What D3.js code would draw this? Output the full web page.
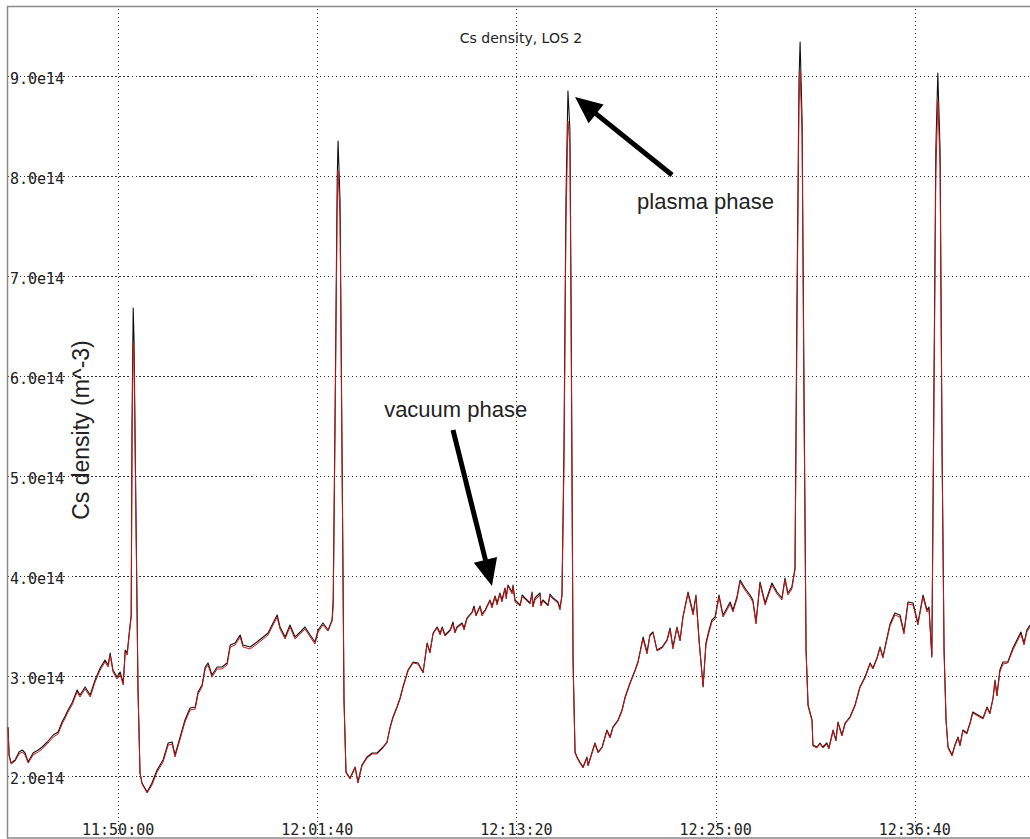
<!DOCTYPE html>
<html>
<head>
<meta charset="utf-8">
<script src="https://cdn.jsdelivr.net/npm/d3@7"></script>
<style>
  body { margin: 0; background: #fff; }
  svg { display: block; }
</style>
</head>
<body>
<div id="chart"></div>
<script>
const width = 1030;
const height = 839;
const frame = { left: 7.5, top: 6.5, right: 1031, bottom: 838 };

const titleText = "Cs density, LOS 2";
const yTitle = "Cs density (m^-3)";

// time axis: seconds after 11:43:30
const baseClock = "11:43:30";
const xStartClock = "11:43:33";
const xEndClock = "12:43:25";
const xTickLabels = ["11:50:00", "12:01:40", "12:13:20", "12:25:00", "12:36:40"];

// density in units of 1e14 m^-3
const yDomain = [1.38, 9.69];
const yTicks = [2, 3, 4, 5, 6, 7, 8, 9];

const times = [
  3, 7, 14, 28, 42, 53, 63, 74, 91, 109, 123, 141, 162, 179, 193, 204, 214, 228, 246, 256,
  274, 292, 309, 327, 344, 355, 362, 372, 386, 397, 408, 415, 422, 429, 436, 439, 443, 446, 453, 460, 467,
  474, 492, 509, 527, 548, 566, 580, 590, 608, 625, 643, 661, 671, 685, 696, 706, 720, 738, 755, 773,
  784, 801, 819, 829, 854, 878, 900, 917, 931, 949, 959, 977, 994, 1012, 1030, 1047, 1065, 1082, 1093, 1110,
  1128, 1142, 1146, 1153, 1160, 1163, 1170, 1177, 1184, 1191,
  1205, 1223, 1233, 1247, 1265, 1283, 1300, 1318, 1335, 1346, 1356, 1370, 1381, 1391, 1409, 1427, 1444, 1462, 1476, 1486, 1497,
  1511, 1522, 1529, 1539, 1557, 1567, 1574, 1581, 1599, 1606, 1616, 1634, 1641, 1648, 1662, 1669, 1680, 1697, 1704, 1715,
  1722, 1732, 1739, 1750, 1754, 1760, 1775, 1778, 1785, 1803, 1810, 1820, 1838, 1845, 1848, 1855, 1873, 1876, 1883, 1901,
  1908, 1919, 1936, 1943, 1950, 1957, 1964, 1971, 1978, 1982, 1989, 1996,
  2003, 2013, 2024, 2038, 2042, 2056, 2066, 2077, 2091, 2108, 2119, 2129, 2147, 2161, 2172, 2189, 2207, 2217, 2235, 2249,
  2259, 2270, 2284, 2302, 2319, 2330, 2340, 2354, 2365, 2375, 2393, 2411, 2421, 2432, 2446, 2456, 2467, 2477, 2488, 2502,
  2516, 2530, 2541, 2551, 2565, 2576, 2593, 2611, 2621, 2632, 2646, 2664, 2688, 2706, 2723, 2734, 2744, 2758, 2769, 2776,
  2783, 2787, 2794, 2801, 2808, 2815,
  2829, 2832, 2846, 2857, 2867, 2881, 2888, 2903, 2913, 2920, 2934, 2945, 2962, 2980, 2997, 3015, 3033, 3043, 3057, 3068,
  3078, 3092, 3103, 3120, 3138, 3152, 3166, 3184, 3201, 3219, 3233, 3240, 3250, 3257, 3264, 3271, 3279, 3286, 3293, 3300,
  3307, 3321, 3331, 3342, 3349, 3359, 3373, 3384, 3394, 3412, 3430, 3444, 3454, 3465, 3472, 3479, 3489, 3500, 3517, 3535,
  3549, 3563, 3574, 3584, 3595
];

const blackValues = [
  2.49, 2.21, 2.13, 2.16, 2.24, 2.26, 2.23, 2.14, 2.23, 2.26, 2.29, 2.34, 2.41, 2.44, 2.54, 2.60, 2.66, 2.73, 2.86, 2.81,
  2.89, 2.81, 2.96, 3.08, 3.16, 3.11, 3.23, 3.06, 2.99, 3.04, 2.93, 3.26, 3.23, 3.43, 3.61, 5.56, 6.68, 6.36, 4.56, 2.86, 2.03,
  1.93, 1.84, 1.93, 2.06, 2.16, 2.33, 2.34, 2.21, 2.39, 2.56, 2.68, 2.69, 2.84, 2.91, 3.09, 3.13, 3.01, 3.09, 3.09, 3.13,
  3.31, 3.33, 3.41, 3.31, 3.29, 3.34, 3.39, 3.43, 3.51, 3.61, 3.49, 3.39, 3.51, 3.39, 3.44, 3.49, 3.41, 3.34, 3.46, 3.53,
  3.46, 3.56, 3.76, 5.76, 7.96, 8.35, 7.76, 5.26, 2.76, 2.04,
  1.98, 2.09, 1.94, 2.11, 2.19, 2.23, 2.23, 2.28, 2.34, 2.49, 2.59, 2.69, 2.78, 2.89, 3.06, 3.14, 3.13, 3.04, 3.33, 3.24, 3.43,
  3.49, 3.43, 3.49, 3.41, 3.46, 3.54, 3.44, 3.49, 3.53, 3.48, 3.58, 3.64, 3.70, 3.61, 3.70, 3.62, 3.66, 3.76, 3.70, 3.80,
  3.73, 3.83, 3.76, 3.88, 3.79, 3.91, 3.84, 3.91, 3.76, 3.71, 3.81, 3.78, 3.73, 3.84, 3.70, 3.78, 3.83, 3.72, 3.76, 3.71,
  3.82, 3.78, 3.74, 3.68, 3.81, 5.26, 7.76, 8.85, 8.46, 6.76, 3.16, 2.24,
  2.19, 2.14, 2.09, 2.19, 2.11, 2.24, 2.33, 2.24, 2.29, 2.46, 2.39, 2.49, 2.56, 2.66, 2.79, 2.93, 3.06, 3.14, 3.39, 3.24,
  3.41, 3.44, 3.26, 3.29, 3.36, 3.48, 3.29, 3.49, 3.36, 3.59, 3.84, 3.63, 3.81, 3.36, 2.89, 3.33, 3.46, 3.56, 3.59, 3.81,
  3.61, 3.68, 3.74, 3.66, 3.79, 3.96, 3.88, 3.81, 3.76, 3.54, 3.94, 3.73, 3.93, 3.84, 3.78, 3.98, 3.83, 3.89, 4.08, 6.76,
  8.96, 9.34, 8.56, 5.76, 3.26, 2.71,
  2.56, 2.31, 2.29, 2.33, 2.29, 2.33, 2.28, 2.46, 2.36, 2.54, 2.41, 2.53, 2.59, 2.71, 2.89, 2.99, 3.13, 3.08, 3.18, 3.29,
  3.19, 3.38, 3.52, 3.63, 3.61, 3.44, 3.74, 3.73, 3.53, 3.81, 3.66, 3.69, 3.19, 5.76, 8.26, 9.03, 8.26, 5.26, 3.26, 2.56,
  2.29, 2.21, 2.31, 2.39, 2.31, 2.46, 2.43, 2.53, 2.64, 2.61, 2.58, 2.69, 2.63, 2.78, 2.96, 2.81, 3.06, 3.14, 3.14, 3.28,
  3.36, 3.44, 3.33, 3.46, 3.51
];

const redValues = [
  2.48, 2.20, 2.12, 2.15, 2.22, 2.24, 2.21, 2.13, 2.21, 2.24, 2.27, 2.32, 2.39, 2.42, 2.52, 2.58, 2.64, 2.71, 2.84, 2.79,
  2.87, 2.79, 2.94, 3.06, 3.14, 3.09, 3.21, 3.04, 2.97, 3.02, 2.91, 3.24, 3.21, 3.41, 3.59, 5.40, 6.33, 6.20, 4.50, 2.84, 2.03,
  1.92, 1.83, 1.91, 2.04, 2.14, 2.31, 2.32, 2.19, 2.37, 2.54, 2.66, 2.67, 2.82, 2.89, 3.07, 3.11, 2.99, 3.07, 3.07, 3.11,
  3.29, 3.31, 3.39, 3.29, 3.27, 3.32, 3.37, 3.41, 3.49, 3.59, 3.47, 3.37, 3.49, 3.37, 3.42, 3.47, 3.39, 3.32, 3.44, 3.51,
  3.45, 3.55, 3.70, 5.60, 7.70, 8.05, 7.60, 5.20, 2.74, 2.03,
  1.97, 2.08, 1.93, 2.10, 2.18, 2.22, 2.22, 2.27, 2.33, 2.48, 2.58, 2.68, 2.77, 2.88, 3.05, 3.13, 3.12, 3.03, 3.32, 3.23, 3.42,
  3.48, 3.41, 3.48, 3.40, 3.45, 3.52, 3.43, 3.48, 3.52, 3.46, 3.57, 3.63, 3.68, 3.60, 3.69, 3.60, 3.65, 3.75, 3.68, 3.79,
  3.71, 3.82, 3.74, 3.87, 3.77, 3.90, 3.82, 3.89, 3.74, 3.70, 3.79, 3.77, 3.72, 3.82, 3.69, 3.76, 3.81, 3.70, 3.75, 3.70,
  3.80, 3.77, 3.73, 3.66, 3.80, 5.10, 7.50, 8.55, 8.30, 6.60, 3.14, 2.23,
  2.18, 2.13, 2.08, 2.18, 2.10, 2.23, 2.32, 2.23, 2.28, 2.45, 2.38, 2.48, 2.55, 2.65, 2.78, 2.92, 3.05, 3.13, 3.37, 3.22,
  3.40, 3.43, 3.25, 3.28, 3.35, 3.46, 3.27, 3.48, 3.35, 3.58, 3.82, 3.61, 3.79, 3.34, 2.90, 3.31, 3.44, 3.54, 3.57, 3.79,
  3.59, 3.66, 3.72, 3.64, 3.77, 3.94, 3.86, 3.79, 3.74, 3.52, 3.92, 3.71, 3.91, 3.82, 3.76, 3.96, 3.81, 3.87, 4.06, 6.50,
  8.70, 9.05, 8.40, 5.60, 3.24, 2.70,
  2.55, 2.30, 2.28, 2.32, 2.28, 2.32, 2.27, 2.45, 2.35, 2.53, 2.40, 2.52, 2.58, 2.70, 2.88, 2.98, 3.12, 3.07, 3.17, 3.28,
  3.18, 3.36, 3.50, 3.61, 3.59, 3.42, 3.72, 3.71, 3.51, 3.79, 3.64, 3.67, 3.21, 5.60, 8.00, 8.75, 8.10, 5.20, 3.24, 2.55,
  2.28, 2.20, 2.30, 2.38, 2.30, 2.45, 2.42, 2.52, 2.63, 2.60, 2.57, 2.68, 2.62, 2.77, 2.94, 2.80, 3.04, 3.12, 3.13, 3.26,
  3.34, 3.42, 3.31, 3.44, 3.49
];

// annotation arrows: [seconds, value] for tail, tip and label anchor
const annotationLabels = ["plasma phase", "vacuum phase"];
const annotationTails = [[2337, 8.01], [1567, 5.46]];
const annotationTips = [[1996, 8.79], [1704, 3.90]];
const annotationText = [[2214, 7.67], [1325, 5.59]];

const textColor = "#222";
const gridColor = "#333";
const frameColor = "#8a8a8a";
const blackLine = "#111";
const redLine = "#c81414";

const parseClock = d3.timeParse("%H:%M:%S");
const base = parseClock(baseClock);
const toDate = s => new Date(base.getTime() + s * 1000);

const x = d3.scaleTime()
  .domain([parseClock(xStartClock), parseClock(xEndClock)])
  .range([8, 1030]);

const y = d3.scaleLinear()
  .domain(yDomain)
  .range([frame.bottom, frame.top + 0.5]);

const svg = d3.select('#chart')
  .append('svg')
  .attr('width', width)
  .attr('height', height);

svg.append('rect')
  .attr('width', width)
  .attr('height', height)
  .attr('fill', '#fff');

svg.append('clipPath')
  .attr('id', 'plot-clip')
  .append('rect')
  .attr('x', frame.left)
  .attr('y', frame.top)
  .attr('width', frame.right - frame.left)
  .attr('height', frame.bottom - frame.top);

// gridlines
const xGrid = svg.append('g')
  .attr('transform', `translate(0, ${frame.bottom})`)
  .call(d3.axisBottom(x)
    .tickValues(xTickLabels.map(parseClock))
    .tickSize(-(frame.bottom - frame.top))
    .tickFormat(''));

const yGrid = svg.append('g')
  .attr('transform', `translate(${frame.left}, 0)`)
  .call(d3.axisLeft(y)
    .tickValues(yTicks)
    .tickSize(-(frame.right - frame.left))
    .tickFormat(''));

[xGrid, yGrid].forEach(g => {
  g.select('.domain').remove();
  g.selectAll('.tick line')
    .attr('stroke', gridColor)
    .attr('stroke-width', 1)
    .attr('stroke-dasharray', '1.2 2.8')
    .attr('shape-rendering', 'crispEdges');
});

// frame
svg.append('path')
  .attr('d', `M${frame.right},${frame.top}H${frame.left}V${frame.bottom}H${frame.right}`)
  .attr('fill', 'none')
  .attr('stroke', frameColor)
  .attr('stroke-width', 1.5);

// series
const line = d3.line()
  .x((d, i) => x(toDate(times[i])))
  .y(d => y(d));

const lines = svg.append('g').attr('clip-path', 'url(#plot-clip)');

lines.append('path')
  .datum(blackValues)
  .attr('d', line)
  .attr('fill', 'none')
  .attr('stroke', blackLine)
  .attr('stroke-width', 1.1)
  .attr('stroke-linejoin', 'round');

lines.append('path')
  .datum(redValues)
  .attr('d', line)
  .attr('fill', 'none')
  .attr('stroke', redLine)
  .attr('stroke-width', 1)
  .attr('stroke-linejoin', 'round');

// tick labels, drawn inside the frame
svg.append('g')
  .selectAll('text')
  .data(yTicks)
  .join('text')
  .attr('x', 10)
  .attr('y', d => y(d) + 8)
  .style('font-family', '"DejaVu Sans Mono", monospace')
  .style('font-size', '15px')
  .style('fill', textColor)
  .text(d => d.toFixed(1) + 'e14');

svg.append('g')
  .selectAll('text')
  .data(xTickLabels)
  .join('text')
  .attr('x', d => x(parseClock(d)))
  .attr('y', 835)
  .attr('text-anchor', 'middle')
  .style('font-family', '"DejaVu Sans Mono", monospace')
  .style('font-size', '15px')
  .style('fill', textColor)
  .text(d => d);

svg.append('text')
  .attr('x', 521)
  .attr('y', 43)
  .attr('text-anchor', 'middle')
  .style('font-family', '"DejaVu Sans", sans-serif')
  .style('font-size', '14px')
  .style('fill', textColor)
  .text(titleText);

svg.append('text')
  .attr('text-anchor', 'middle')
  .attr('transform', 'translate(89, 430) rotate(-90)')
  .style('font-family', '"Liberation Sans", Arial, sans-serif')
  .style('font-size', '23px')
  .style('fill', textColor)
  .text(yTitle);

// annotations
const px = p => [x(toDate(p[0])), y(p[1])];

annotationLabels.forEach((label, i) => {
  const [x0, y0] = px(annotationTails[i]);
  const [x1, y1] = px(annotationTips[i]);
  const len = Math.hypot(x1 - x0, y1 - y0);
  const ux = (x1 - x0) / len, uy = (y1 - y0) / len;
  const headLen = 27, headHalf = 12;
  const bx = x1 - ux * headLen, by = y1 - uy * headLen;

  svg.append('line')
    .attr('x1', x0).attr('y1', y0)
    .attr('x2', bx + ux * 2).attr('y2', by + uy * 2)
    .attr('stroke', '#000')
    .attr('stroke-width', 5);

  svg.append('path')
    .attr('d', `M${x1},${y1}L${bx - uy * headHalf},${by + ux * headHalf}L${bx + uy * headHalf},${by - ux * headHalf}Z`)
    .attr('fill', '#000');

  const [tx, ty] = px(annotationText[i]);
  svg.append('text')
    .attr('x', tx)
    .attr('y', ty)
    .style('font-family', '"Liberation Sans", Arial, sans-serif')
    .style('font-size', '22px')
    .style('fill', textColor)
    .text(label);
});
</script>
</body>
</html>
